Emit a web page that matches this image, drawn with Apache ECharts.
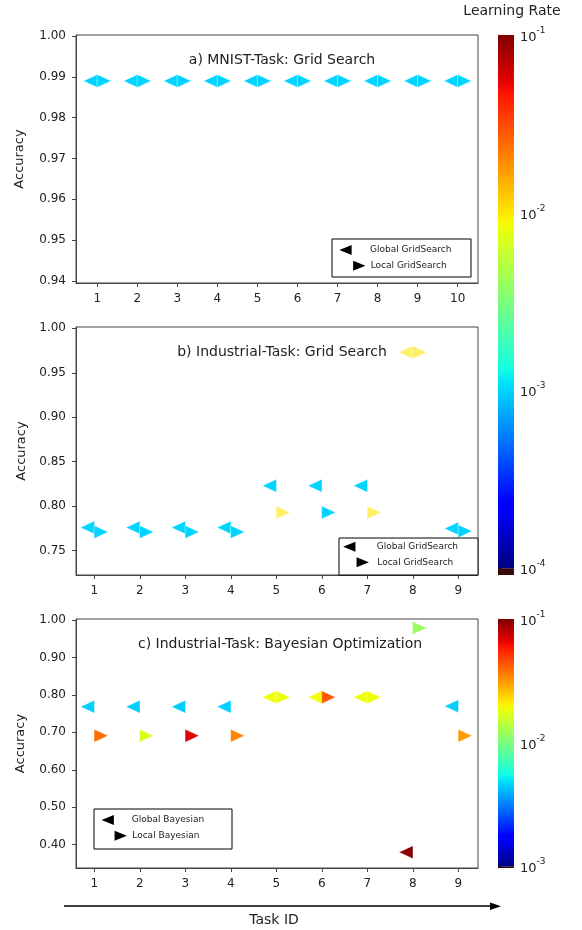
<!DOCTYPE html>
<html>
<head>
<meta charset="utf-8">
<script src="https://cdn.jsdelivr.net/npm/echarts@6/dist/echarts.min.js"></script>
<style>
html,body{margin:0;padding:0;background:#fff;}
#chart{width:582px;height:930px;}
</style>
</head>
<body>
<div id="chart"></div>
<script>
// ---------- data ----------
const tasksA = [1, 2, 3, 4, 5, 6, 7, 8, 9, 10];
const accA_global = [0.989, 0.989, 0.989, 0.989, 0.989, 0.989, 0.989, 0.989, 0.989, 0.989];
const accA_local  = [0.989, 0.989, 0.989, 0.989, 0.989, 0.989, 0.989, 0.989, 0.989, 0.989];
const lrA_global  = [0.001, 0.001, 0.001, 0.001, 0.001, 0.001, 0.001, 0.001, 0.001, 0.001];
const lrA_local   = [0.001, 0.001, 0.001, 0.001, 0.001, 0.001, 0.001, 0.001, 0.001, 0.001];

const tasksB = [1, 2, 3, 4, 5, 6, 7, 8, 9];
const accB_global = [0.776, 0.776, 0.776, 0.776, 0.823, 0.823, 0.823, 0.973, 0.775];
const accB_local  = [0.771, 0.771, 0.771, 0.771, 0.793, 0.793, 0.793, 0.973, 0.772];
const lrB_global  = [0.001, 0.001, 0.001, 0.001, 0.001, 0.001, 0.001, 0.01, 0.001];
const lrB_local   = [0.001, 0.001, 0.001, 0.001, 0.01, 0.001, 0.01, 0.01, 0.001];

const tasksC = [1, 2, 3, 4, 5, 6, 7, 8, 9];
const accC_global = [0.7685, 0.7685, 0.7685, 0.7685, 0.794, 0.794, 0.794, 0.380, 0.770];
const accC_local  = [0.691, 0.691, 0.691, 0.691, 0.794, 0.794, 0.794, 0.979, 0.691];
const lrC_global  = [0.0045, 0.0045, 0.0045, 0.0045, 0.019, 0.019, 0.019, 0.096, 0.0045];
const lrC_local   = [0.039, 0.017, 0.068, 0.034, 0.019, 0.043, 0.019, 0.0118, 0.031];

const yTicksA = [0.94, 0.95, 0.96, 0.97, 0.98, 0.99, 1.00];
const yTicksB = [0.75, 0.80, 0.85, 0.90, 0.95, 1.00];
const yTicksC = [0.40, 0.50, 0.60, 0.70, 0.80, 0.90, 1.00];
const cbTicksAB = [-4, -3, -2, -1];   // log10 of learning rate
const cbTicksC = [-3, -2, -1];

const titles = ['a) MNIST-Task: Grid Search', 'b) Industrial-Task: Grid Search', 'c) Industrial-Task: Bayesian Optimization'];

// ---------- colormap ----------
const rPts = [[0,0],[0.35,0],[0.66,1],[0.89,1],[1,0.5]];
const gPts = [[0,0],[0.125,0],[0.375,1],[0.64,1],[0.91,0],[1,0]];
const bPts = [[0,0.5],[0.11,1],[0.34,1],[0.65,0],[1,0]];
function interp(pts, t) {
  for (let i = 1; i < pts.length; i++) {
    if (t <= pts[i][0]) {
      const a = pts[i-1], b = pts[i];
      return a[1] + (b[1]-a[1]) * (t - a[0]) / (b[0] - a[0]);
    }
  }
  return pts[pts.length-1][1];
}
function jet(t, alpha) {
  t = Math.max(0, Math.min(1, t));
  const r = Math.round(interp(rPts,t)*255), g = Math.round(interp(gPts,t)*255), b = Math.round(interp(bPts,t)*255);
  return 'rgba(' + r + ',' + g + ',' + b + ',' + (alpha == null ? 1 : alpha) + ')';
}
function jetGradient() {
  const stops = [];
  for (let i = 0; i <= 64; i++) stops.push({offset: i/64, color: jet(i/64)});
  return new echarts.graphic.LinearGradient(0, 1, 0, 0, stops);
}

const FONT = 'DejaVu Sans';
const AX = '#444';

// ---------- layout ----------
const grids = [
  {left: 76, top: 35, width: 402, height: 248},
  {left: 76, top: 327, width: 402, height: 248},
  {left: 76, top: 619, width: 402, height: 249},
  {left: 498, top: 35, width: 16, height: 540},
  {left: 498, top: 619, width: 16, height: 249}
];

function xAx(gi, min, max, ticks) {
  return {
    type: 'value', gridIndex: gi, min: min, max: max,
    axisLine: {show: true, lineStyle: {color: AX, width: 1}},
    axisTick: {show: true, length: 4, lineStyle: {color: AX}, customValues: ticks},
    axisLabel: {color: '#222', fontFamily: FONT, fontSize: 12, margin: 10, customValues: ticks},
    splitLine: {show: false}
  };
}
function yAx(gi, min, max, ticks, gap) {
  return {
    type: 'value', gridIndex: gi, min: min, max: max,
    name: 'Accuracy', nameLocation: 'middle', nameGap: gap, nameRotate: 90,
    nameTextStyle: {fontFamily: FONT, fontSize: 13, color: '#222'},
    axisLine: {show: true, lineStyle: {color: AX, width: 1}},
    axisTick: {show: true, length: 4, lineStyle: {color: AX}, customValues: ticks},
    axisLabel: {color: '#222', fontFamily: FONT, fontSize: 12, margin: 10, customValues: ticks,
      formatter: v => v.toFixed(2)},
    splitLine: {show: false}
  };
}
function cbX(gi) {
  return {type: 'value', gridIndex: gi, min: 0, max: 1, show: false};
}
function cbY(gi, min, max, ticks) {
  return {
    type: 'value', gridIndex: gi, min: min, max: max, position: 'right',
    axisLine: {show: true, lineStyle: {color: '#333', width: 0.8}},
    axisTick: {show: true, length: 4, lineStyle: {color: '#333'}, customValues: ticks},
    axisLabel: {margin: 6, customValues: ticks,
      formatter: v => '{b|10}{s|' + v + '}',
      rich: {
        b: {fontFamily: FONT, fontSize: 13, color: '#222', lineHeight: 18, verticalAlign: 'bottom'},
        s: {fontFamily: FONT, fontSize: 9, color: '#222', lineHeight: 18, verticalAlign: 'top'}
      }
    },
    splitLine: {show: false}
  };
}

const LEFT_TRI = 'path://M0,5L10,0L10,10Z';
const RIGHT_TRI = 'path://M0,0L10,5L0,10Z';

function scatter(xi, tasks, acc, lr, left, colorFn) {
  return {
    type: 'scatter', xAxisIndex: xi, yAxisIndex: xi,
    data: tasks.map((t, i) => [t, acc[i], lr[i]]),
    symbol: left ? LEFT_TRI : RIGHT_TRI,
    symbolSize: [14, 13],
    symbolKeepAspect: false,
    symbolOffset: [left ? -6.8 : 6.8, 0],
    itemStyle: {color: p => colorFn(p.value[2]), opacity: 1, borderColor: '#fff', borderWidth: 0.4},
    emphasis: {disabled: true},
    z: 3
  };
}
const colAB = lr => jet((Math.log10(lr) + 4) / 3);
const colB = lr => jet((Math.log10(lr) + 4) / 3, lr >= 0.005 ? 0.6 : 1);
const colC = lr => jet((Math.log10(lr) + 3) / 2);

function colorbar(xi, lo, hi, under) {
  return {
    type: 'custom', xAxisIndex: xi, yAxisIndex: xi,
    data: [[under, lo, 1], [lo, hi, 0]],
    renderItem: function (params, api) {
      const p0 = api.coord([0, api.value(0)]);
      const p1 = api.coord([1, api.value(1)]);
      return {
        type: 'rect',
        shape: {x: p0[0], y: p1[1], width: p1[0] - p0[0], height: p0[1] - p1[1]},
        style: {fill: api.value(2) === 1 ? '#3a0a04' : jetGradient()}
      };
    }
  };
}

// ---------- legends / texts ----------
function tri(cx, cy, left) {
  const w = 12.3, h = 10;
  const pts = left
    ? [[cx - w/2, cy], [cx + w/2, cy - h/2], [cx + w/2, cy + h/2]]
    : [[cx - w/2, cy - h/2], [cx + w/2, cy], [cx - w/2, cy + h/2]];
  return {type: 'polygon', shape: {points: pts}, style: {fill: '#000'}, z: 10};
}
function legendBox(x0, y0, x1, y1, t1, t2, l1, l2) {
  return [
    {type: 'rect', shape: {x: x0, y: y0, width: x1 - x0, height: y1 - y0},
     style: {fill: '#fff', stroke: '#000', lineWidth: 1}, z: 9},
    tri(l1[0], l1[1], true), tri(l2[0], l2[1], false),
    {type: 'text', x: l1[2], y: l1[1], style: {text: t1, fontFamily: FONT, fontSize: 9, fill: '#222', verticalAlign: 'middle'}, z: 10},
    {type: 'text', x: l2[2], y: l2[1], style: {text: t2, fontFamily: FONT, fontSize: 9, fill: '#222', verticalAlign: 'middle'}, z: 10}
  ];
}
function ctext(txt, x, y, size) {
  return {type: 'text', x: x, y: y, style: {text: txt, fontFamily: FONT, fontSize: size, fill: '#222', align: 'center', verticalAlign: 'middle'}, z: 10};
}

const graphics = [].concat(
  [ctext(titles[0], 282, 60, 14), ctext(titles[1], 282, 352, 14), ctext(titles[2], 280, 644, 14)],
  [ctext('Learning Rate', 512, 11, 14), ctext('Task ID', 274, 920, 14)],
  legendBox(332, 239, 471, 277, 'Global GridSearch', 'Local GridSearch', [345.5, 250, 370], [359.3, 265.7, 370.7]),
  legendBox(339, 538, 478, 575, 'Global GridSearch', 'Local GridSearch', [349.3, 546.7, 376.7], [362.7, 562.3, 377.3]),
  legendBox(94, 809, 232, 849, 'Global Bayesian', 'Local Bayesian', [107.7, 820, 131.7], [120.7, 835.7, 132.3]),
  [
    {type: 'line', shape: {x1: 64, y1: 906, x2: 492, y2: 906}, style: {stroke: '#000', lineWidth: 1.3}, z: 10},
    {type: 'polygon', shape: {points: [[490, 902.5], [501, 906.3], [490, 910]]}, style: {fill: '#000'}, z: 10}
  ]
);

const option = {
  animation: false,
  backgroundColor: '#fff',
  grid: grids.map((g, i) => Object.assign({containLabel: false, show: i < 3, borderColor: AX, borderWidth: 1, backgroundColor: 'transparent'}, g)),
  xAxis: [
    xAx(0, 0.468, 10.507, tasksA),
    xAx(1, 0.598, 9.433, tasksB),
    xAx(2, 0.598, 9.433, tasksC),
    cbX(3), cbX(4)
  ],
  yAxis: [
    yAx(0, 0.93951, 1.00024, yTicksA, 49.5),
    yAx(1, 0.72268, 1.00146, yTicksB, 46.5),
    yAx(2, 0.3378, 1.0027, yTicksC, 49),
    cbY(3, -4.038, -1, cbTicksAB),
    cbY(4, -3.013, -1, cbTicksC)
  ],
  series: [
    scatter(0, tasksA, accA_global, lrA_global, true, colAB),
    scatter(0, tasksA, accA_local, lrA_local, false, colAB),
    scatter(1, tasksB, accB_global, lrB_global, true, colB),
    scatter(1, tasksB, accB_local, lrB_local, false, colB),
    scatter(2, tasksC, accC_global, lrC_global, true, colC),
    scatter(2, tasksC, accC_local, lrC_local, false, colC),
    colorbar(3, -4, -1, -4.038),
    colorbar(4, -3, -1, -3.013)
  ],
  graphic: graphics
};

const chart = echarts.init(document.getElementById('chart'), null, {renderer: 'canvas'});
chart.setOption(option);
</script>
</body>
</html>
